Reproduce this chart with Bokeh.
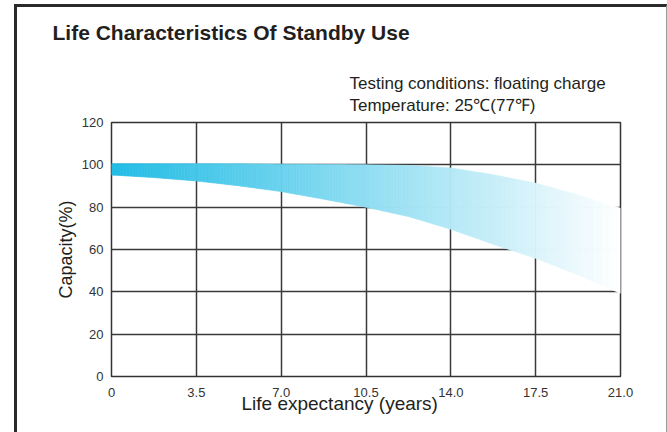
import numpy as np
from bokeh.plotting import figure
from bokeh.models import Range1d, FixedTicker, Title, ColumnDataSource
from bokeh.embed import file_html
from bokeh.resources import INLINE

# ---- data ----
years = [0, 1.75, 3.5, 5.25, 7, 8.75, 10.5, 12.25, 14, 15.75, 17.5, 19.25, 21]
capacity_upper = [100.5, 100.5, 100.5, 100.5, 100.3, 100.2, 100.0, 99.7, 98.5, 95.3, 91.3, 85.8, 79.5]
capacity_lower = [95.2, 94.0, 92.4, 90.1, 87.4, 83.8, 80.0, 75.6, 69.6, 62.5, 55.9, 48.0, 39.3]
x_ticks = [0, 3.5, 7, 10.5, 14, 17.5, 21]
x_tick_labels = ["0", "3.5", "7.0", "10.5", "14.0", "17.5", "21.0"]
y_ticks = [0, 20, 40, 60, 80, 100, 120]

title_text = "Life Characteristics Of Standby Use"
note1 = "Testing conditions: floating charge"
note2 = "Temperature: 25\u2103(77\u2109)"
x_title = "Life expectancy (years)"
y_title = "Capacity(%)"

FONT = "Liberation Sans"
DARK = "#231f20"

p = figure(width=649, height=425, output_backend="svg", toolbar_location=None,
           x_range=Range1d(0, 21), y_range=Range1d(0, 120),
           min_border_left=94, min_border_right=50, min_border_top=113, min_border_bottom=59,
           background_fill_color="white", border_fill_color="white")
p.margin = (4, 0, 0, 14)
p.styles = {"border-left": "3px solid #2a2a2a", "border-top": "3px solid #2a2a2a",
            "border-right": "1px solid #9a9a9a", "box-sizing": "content-box"}
p.outline_line_color = "#333333"
p.outline_line_width = 1.5

# grid
p.xgrid.ticker = FixedTicker(ticks=x_ticks)
p.ygrid.ticker = FixedTicker(ticks=y_ticks)
for g in (p.xgrid, p.ygrid):
    g.grid_line_color = "#3a3a3a"
    g.grid_line_width = 1.5

# axes
p.xaxis.ticker = FixedTicker(ticks=x_ticks)
p.xaxis.major_label_overrides = {t: l for t, l in zip(x_ticks, x_tick_labels)}
p.yaxis.ticker = FixedTicker(ticks=y_ticks)
for ax in (p.xaxis, p.yaxis):
    ax.axis_line_color = None
    ax.major_tick_out = 0
    ax.major_tick_in = 0
    ax.minor_tick_out = 0
    ax.minor_tick_in = 0
    ax.major_label_text_font = FONT
    ax.major_label_text_font_size = "13px"
    ax.major_label_text_color = "#333333"
p.xaxis.major_label_standoff = 11
p.yaxis.major_label_standoff = 8
p.yaxis.axis_label = y_title
p.yaxis.axis_label_text_font = FONT
p.yaxis.axis_label_text_font_size = "18px"
p.yaxis.axis_label_text_font_style = "normal"
p.yaxis.axis_label_text_color = DARK
p.yaxis.axis_label_standoff = 3

# gradient band: vertical slices of the band between the read curves, colour fading cyan -> white
yrs = np.array(years, dtype=float)
up = np.array(capacity_upper, dtype=float)
lo = np.array(capacity_lower, dtype=float)
edges = np.unique(np.concatenate([yrs, np.linspace(yrs[0], yrs[-1], 169)]))
c0 = np.array([33, 188, 229])
c1 = np.array([255, 255, 255])
xs, ys, cols = [], [], []
for a, b in zip(edges[:-1], edges[1:]):
    ua, ub = np.interp([a, b], yrs, up)
    la, lb = np.interp([a, b], yrs, lo)
    xs.append([a, b, b, a])
    ys.append([la, lb, ub, ua])
    t = ((a + b) / 2 - yrs[0]) / (yrs[-1] - yrs[0])
    c = (c0 * (1 - t) + c1 * t).round().astype(int)
    cols.append("#%02x%02x%02x" % tuple(c))
src = ColumnDataSource(dict(xs=xs, ys=ys, c=cols))
p.patches("xs", "ys", source=src, fill_color="c", line_color="c", line_width=0.7)

# header texts: the plot's own title is the outermost line, added titles sit nearer the frame
p.title.text = title_text
p.title.align = "left"
p.title.offset = -59
p.title.text_font = FONT
p.title.text_font_size = "21px"
p.title.text_font_style = "bold"
p.title.text_color = DARK
p.title.vertical_align = "top"
p.title.standoff = 26
p.add_layout(Title(text=note1 + "\n" + note2, align="left", offset=238, text_font=FONT,
                   text_font_size="17px", text_font_style="normal", text_color=DARK,
                   text_line_height=1.15, standoff=15), "above")
# thin spacer between the notes and the heading
p.add_layout(Title(text=" ", text_font_size="1px", standoff=3), "above")
p.add_layout(Title(text=x_title, align="left", offset=130, text_font=FONT,
                   text_font_size="19px", text_font_style="normal", text_color=DARK,
                   standoff=-18), "below")

open("out.html", "w").write(file_html(p, INLINE))
